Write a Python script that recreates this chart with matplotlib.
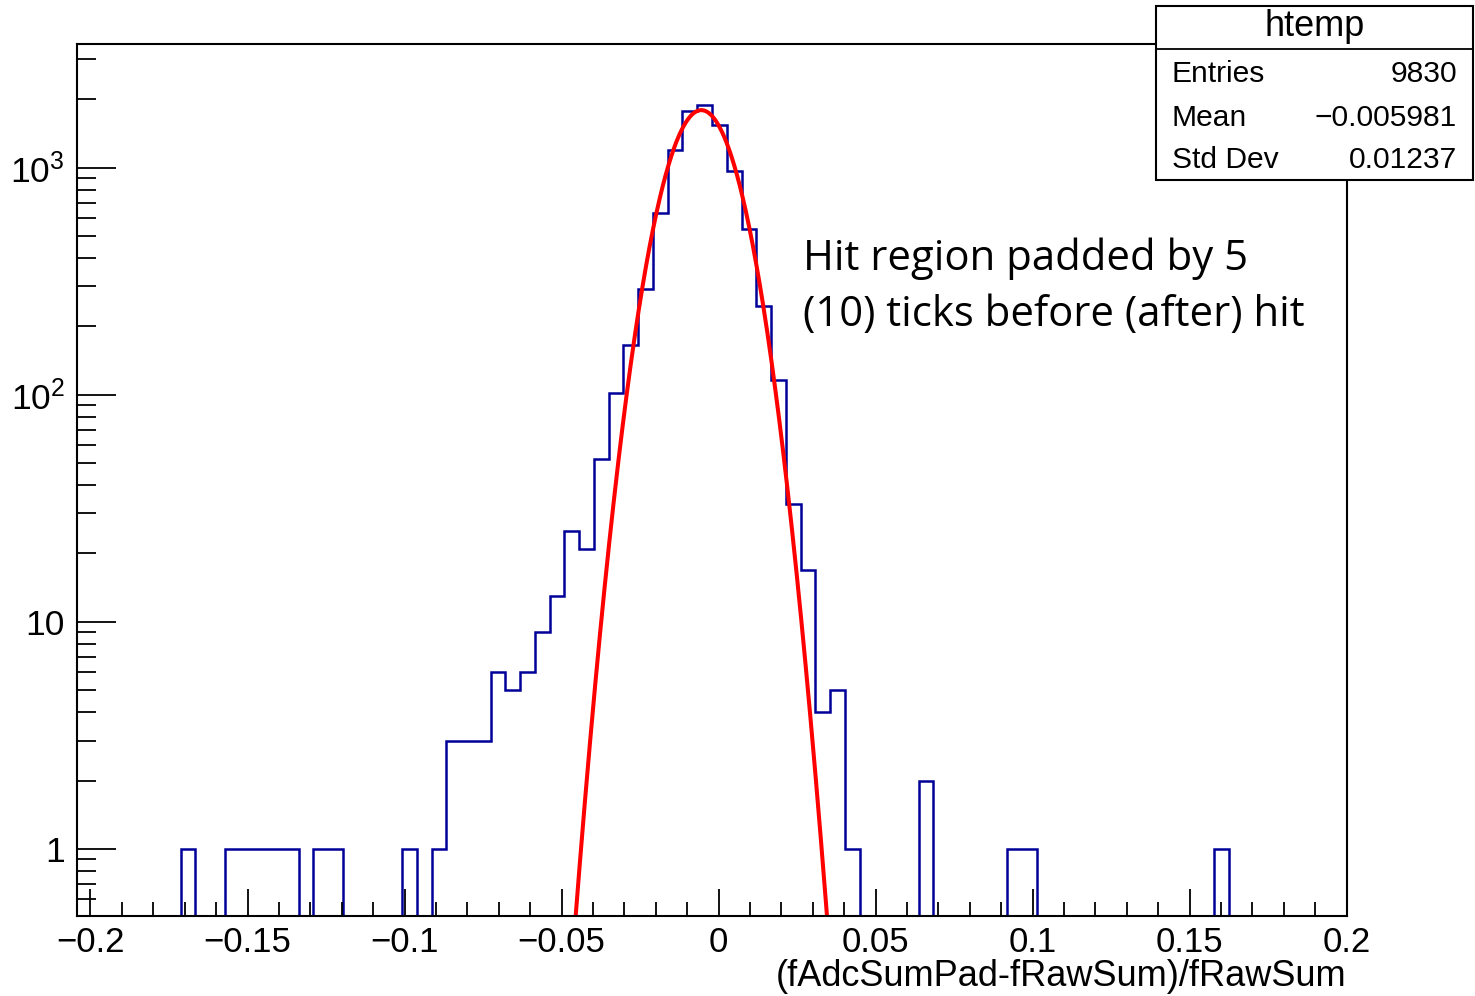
import matplotlib
matplotlib.use("Agg")
import matplotlib.pyplot as plt
import numpy as np
from matplotlib.patches import Rectangle

# histogram of (fAdcSumPad-fRawSum)/fRawSum, 86 bins
x_lo = -0.2042
x_hi = 0.2
n_bins = 86
counts = [0, 0, 0, 0, 0, 0, 0, 1, 0, 0,
          1, 1, 1, 1, 1, 0, 1, 1, 0, 0,
          0, 0, 1, 0, 1, 3, 3, 3, 6, 5,
          6, 9, 13, 25, 21, 52, 102, 165, 292, 631,
          1190, 1780, 1880, 1540, 970, 535, 247, 116, 33, 17,
          4, 5, 1, 0, 0, 0, 0, 2, 0, 0,
          0, 0, 0, 1, 1, 0, 0, 0, 0, 0,
          0, 0, 0, 0, 0, 0, 0, 1, 0, 0,
          0, 0, 0, 0, 0, 0]

# gaussian fit
fit_const = 1790.0
fit_mean = -0.0055
fit_sigma = 0.0099

stats_rows = [("Entries", "9830"), ("Mean", "\u22120.005981"), ("Std Dev", "0.01237")]
xticks = [-0.2, -0.15, -0.1, -0.05, 0, 0.05, 0.1, 0.15, 0.2]
xtick_labels = ["\u22120.2", "\u22120.15", "\u22120.1", "\u22120.05", "0", "0.05", "0.1", "0.15", "0.2"]
yticks = [1, 10, 100, 1000]
ytick_labels = ["1", "10", "$10^{2}$", "$10^{3}$"]

plt.rcParams['font.family'] = ['Liberation Sans', 'DejaVu Sans']
plt.rcParams['mathtext.fontset'] = 'custom'
plt.rcParams['mathtext.rm'] = 'Liberation Sans'
plt.rcParams['mathtext.it'] = 'Liberation Sans'

W, H = 1475, 996
fig = plt.figure(figsize=(W / 100, H / 100), dpi=100)

def fx(px):
	return px / W

def fy(py):
	return 1 - py / H

ax = fig.add_axes([fx(77.3), fy(916), fx(1346.7) - fx(77.3), fy(44) - fy(916)])

edges = np.linspace(x_lo, x_hi, n_bins + 1)
vals = np.array(counts, dtype=float)
vals[vals <= 0] = 0.05
ax.stairs(vals, edges, color='#000099', linewidth=1.8, baseline=None)

xs = np.linspace(-0.06, 0.05, 600)
ys = fit_const * np.exp(-0.5 * ((xs - fit_mean) / fit_sigma) ** 2)
ax.plot(xs, ys, color='#ff0000', linewidth=2.9)

ax.set_yscale('log')
ax.set_xlim(x_lo, x_hi)
ax.set_ylim(0.507, 3500)

ax.set_xticks(xticks)
ax.set_xticklabels(xtick_labels)
ax.set_xticks(np.arange(-0.2, 0.2001, 0.01), minor=True)
ax.set_yticks(yticks)
ax.set_yticklabels(ytick_labels)
minor_y = [m * 10.0 ** e for e in range(-1, 4) for m in range(2, 10)]
minor_y = [v for v in minor_y if 0.507 < v < 3500 and v not in yticks]
ax.set_yticks(minor_y, minor=True)
ax.yaxis.set_minor_formatter(matplotlib.ticker.NullFormatter())

ax.tick_params(axis='x', which='major', direction='in', length=19.4, width=1.3,
	top=False, labelsize=25, pad=7)
ax.tick_params(axis='x', which='minor', direction='in', length=10, width=1.3, top=False)
ax.tick_params(axis='y', which='major', direction='in', length=28, width=1.3,
	right=False, labelsize=25.5, pad=9)
ax.tick_params(axis='y', which='minor', direction='in', length=13.7, width=1.3, right=False)
for s in ax.spines.values():
	s.set_linewidth(1.5)

fig.text(fx(1346), fy(976), "(fAdcSumPad-fRawSum)/fRawSum", ha='right', va='center', fontsize=26)

fig.text(fx(803), fy(259), "Hit region padded by 5", ha='left', va='center',
	fontsize=30.2, family='Open Sans')
fig.text(fx(803), fy(315), "(10) ticks before (after) hit", ha='left', va='center',
	fontsize=30.2, family='Open Sans')

# stats box
fig.add_artist(Rectangle((fx(1156), fy(180)), fx(1473) - fx(1156), fy(6) - fy(180),
	transform=fig.transFigure, facecolor='white', edgecolor='black', linewidth=1.5, zorder=5))
fig.add_artist(plt.Line2D([fx(1156), fx(1473)], [fy(49), fy(49)], transform=fig.transFigure,
	color='black', linewidth=1.3, zorder=6))
fig.text(fx(1314.5), fy(26), "htemp", ha='center', va='center', fontsize=26, zorder=7)
row_y = [74, 118, 160]
for (name, value), y in zip(stats_rows, row_y):
	fig.text(fx(1172), fy(y), name, ha='left', va='center', fontsize=21.6, zorder=7)
	fig.text(fx(1457), fy(y), value, ha='right', va='center', fontsize=21.6, zorder=7)

fig.savefig("out.png", dpi=100)
